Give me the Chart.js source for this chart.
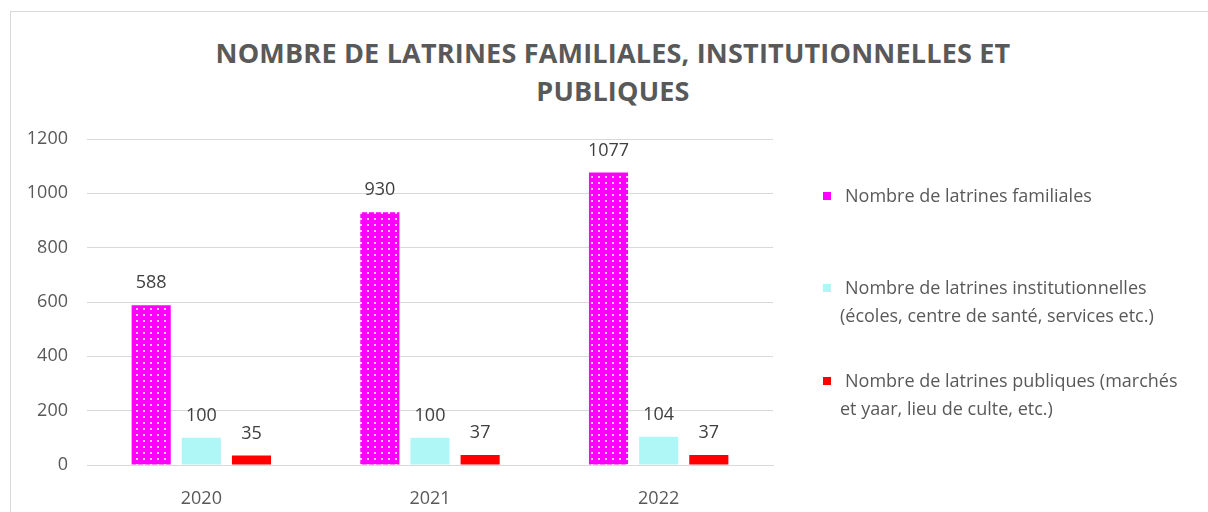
<!DOCTYPE html>
<html>
<head>
<meta charset="utf-8">
<script src="https://cdn.jsdelivr.net/npm/chart.js@4"></script>
<style>
    body { margin: 0; background: #fff; font-family: "Open Sans", sans-serif; }
    #wrap { position: relative; width: 1208px; height: 512px; overflow: hidden; }
    #frame { position: absolute; left: 10px; top: 11px; width: 1220px; height: 520px; border: 1px solid #d9d9d9; }
    #title { position: absolute; left: 163px; width: 900px; top: 34px; text-align: center;
             font-size: 27px; font-weight: 700; color: #595959; line-height: 38px; letter-spacing: 0.2px; }
    #chart-box { position: absolute; left: 0; top: 0; width: 1208px; height: 512px; }
    .leg { position: absolute; left: 840px; font-size: 18px; color: #595959; line-height: 28px; text-indent: -17px; white-space: nowrap; }
    .leg .sw { display: inline-block; width: 8px; height: 8px; margin-right: 14px; vertical-align: 2px; text-indent: 0; }
</style>
</head>
<body>
<div id="wrap">
    <div id="frame"></div>
    <div id="title">NOMBRE DE LATRINES FAMILIALES, INSTITUTIONNELLES ET<br>PUBLIQUES</div>
    <div id="chart-box"><canvas id="chart"></canvas></div>
    <div class="leg" style="top:181px"><span class="sw" style="background:#ff00ff"></span>Nombre de latrines familiales</div>
    <div class="leg" style="top:273px"><span class="sw" style="background:#aff7f7"></span>Nombre de latrines institutionnelles<br>(écoles, centre de santé, services etc.)</div>
    <div class="leg" style="top:366px"><span class="sw" style="background:#ff0000"></span>Nombre de latrines publiques (marchés<br>et yaar, lieu de culte, etc.)</div>
</div>
<script>
const years = ['2020', '2021', '2022'];
const familiales = [588, 930, 1077];
const institutionnelles = [100, 100, 104];
const publiques = [35, 37, 37];
const yTicks = [0, 200, 400, 600, 800, 1000, 1200];

// dotted magenta fill like the original
function dotPattern() {
    const c = document.createElement('canvas');
    c.width = 7; c.height = 6;
    const g = c.getContext('2d');
    g.fillStyle = '#ff00ff';
    g.fillRect(0, 0, 7, 6);
    g.fillStyle = 'rgba(255,235,255,0.85)';
    g.fillRect(3, 2, 2, 2);
    return g.createPattern(c, 'repeat');
}

// value labels above each bar
const valueLabels = {
    id: 'valueLabels',
    afterDatasetsDraw(chart) {
        const ctx = chart.ctx;
        ctx.save();
        ctx.font = '18px "Open Sans", sans-serif';
        ctx.fillStyle = '#404040';
        ctx.textAlign = 'center';
        ctx.textBaseline = 'middle';
        chart.data.datasets.forEach((ds, i) => {
            chart.getDatasetMeta(i).data.forEach((bar, j) => {
                ctx.fillText(ds.data[j], bar.x, bar.y - 22);
            });
        });
        ctx.restore();
    }
};

new Chart(document.getElementById('chart'), {
    type: 'bar',
    data: {
        labels: years,
        datasets: [
            { label: 'Nombre de latrines familiales', data: familiales, backgroundColor: dotPattern() },
            { label: 'Nombre de latrines institutionnelles (écoles, centre de santé, services etc.)', data: institutionnelles, backgroundColor: '#aff7f7' },
            { label: 'Nombre de latrines publiques (marchés et yaar, lieu de culte, etc.)', data: publiques, backgroundColor: '#ff0000' }
        ]
    },
    options: {
        responsive: true,
        maintainAspectRatio: false,
        animation: false,
        layout: { padding: { top: 139, right: 435, bottom: 0, left: 0 } },
        datasets: { bar: { categoryPercentage: 0.658, barPercentage: 0.78 } },
        plugins: {
            legend: { display: false },
            tooltip: { enabled: false }
        },
        scales: {
            x: {
                grid: { display: false },
                border: { color: '#d9d9d9' },
                ticks: { color: '#595959', font: { size: 18, family: '"Open Sans", sans-serif' }, padding: 15 },
                afterFit: s => { s.height = 47; }
            },
            y: {
                min: 0,
                max: 1200,
                afterBuildTicks: s => { s.ticks = yTicks.map(v => ({ value: v })); },
                grid: { color: '#d9d9d9', drawTicks: false },
                border: { display: false },
                ticks: {
                    color: '#595959',
                    font: { size: 18, family: '"Open Sans", sans-serif' },
                    padding: 19,
                    callback: v => String(v)
                },
                afterFit: s => { s.width = 87; }
            }
        }
    },
    plugins: [valueLabels]
});
</script>
</body>
</html>
